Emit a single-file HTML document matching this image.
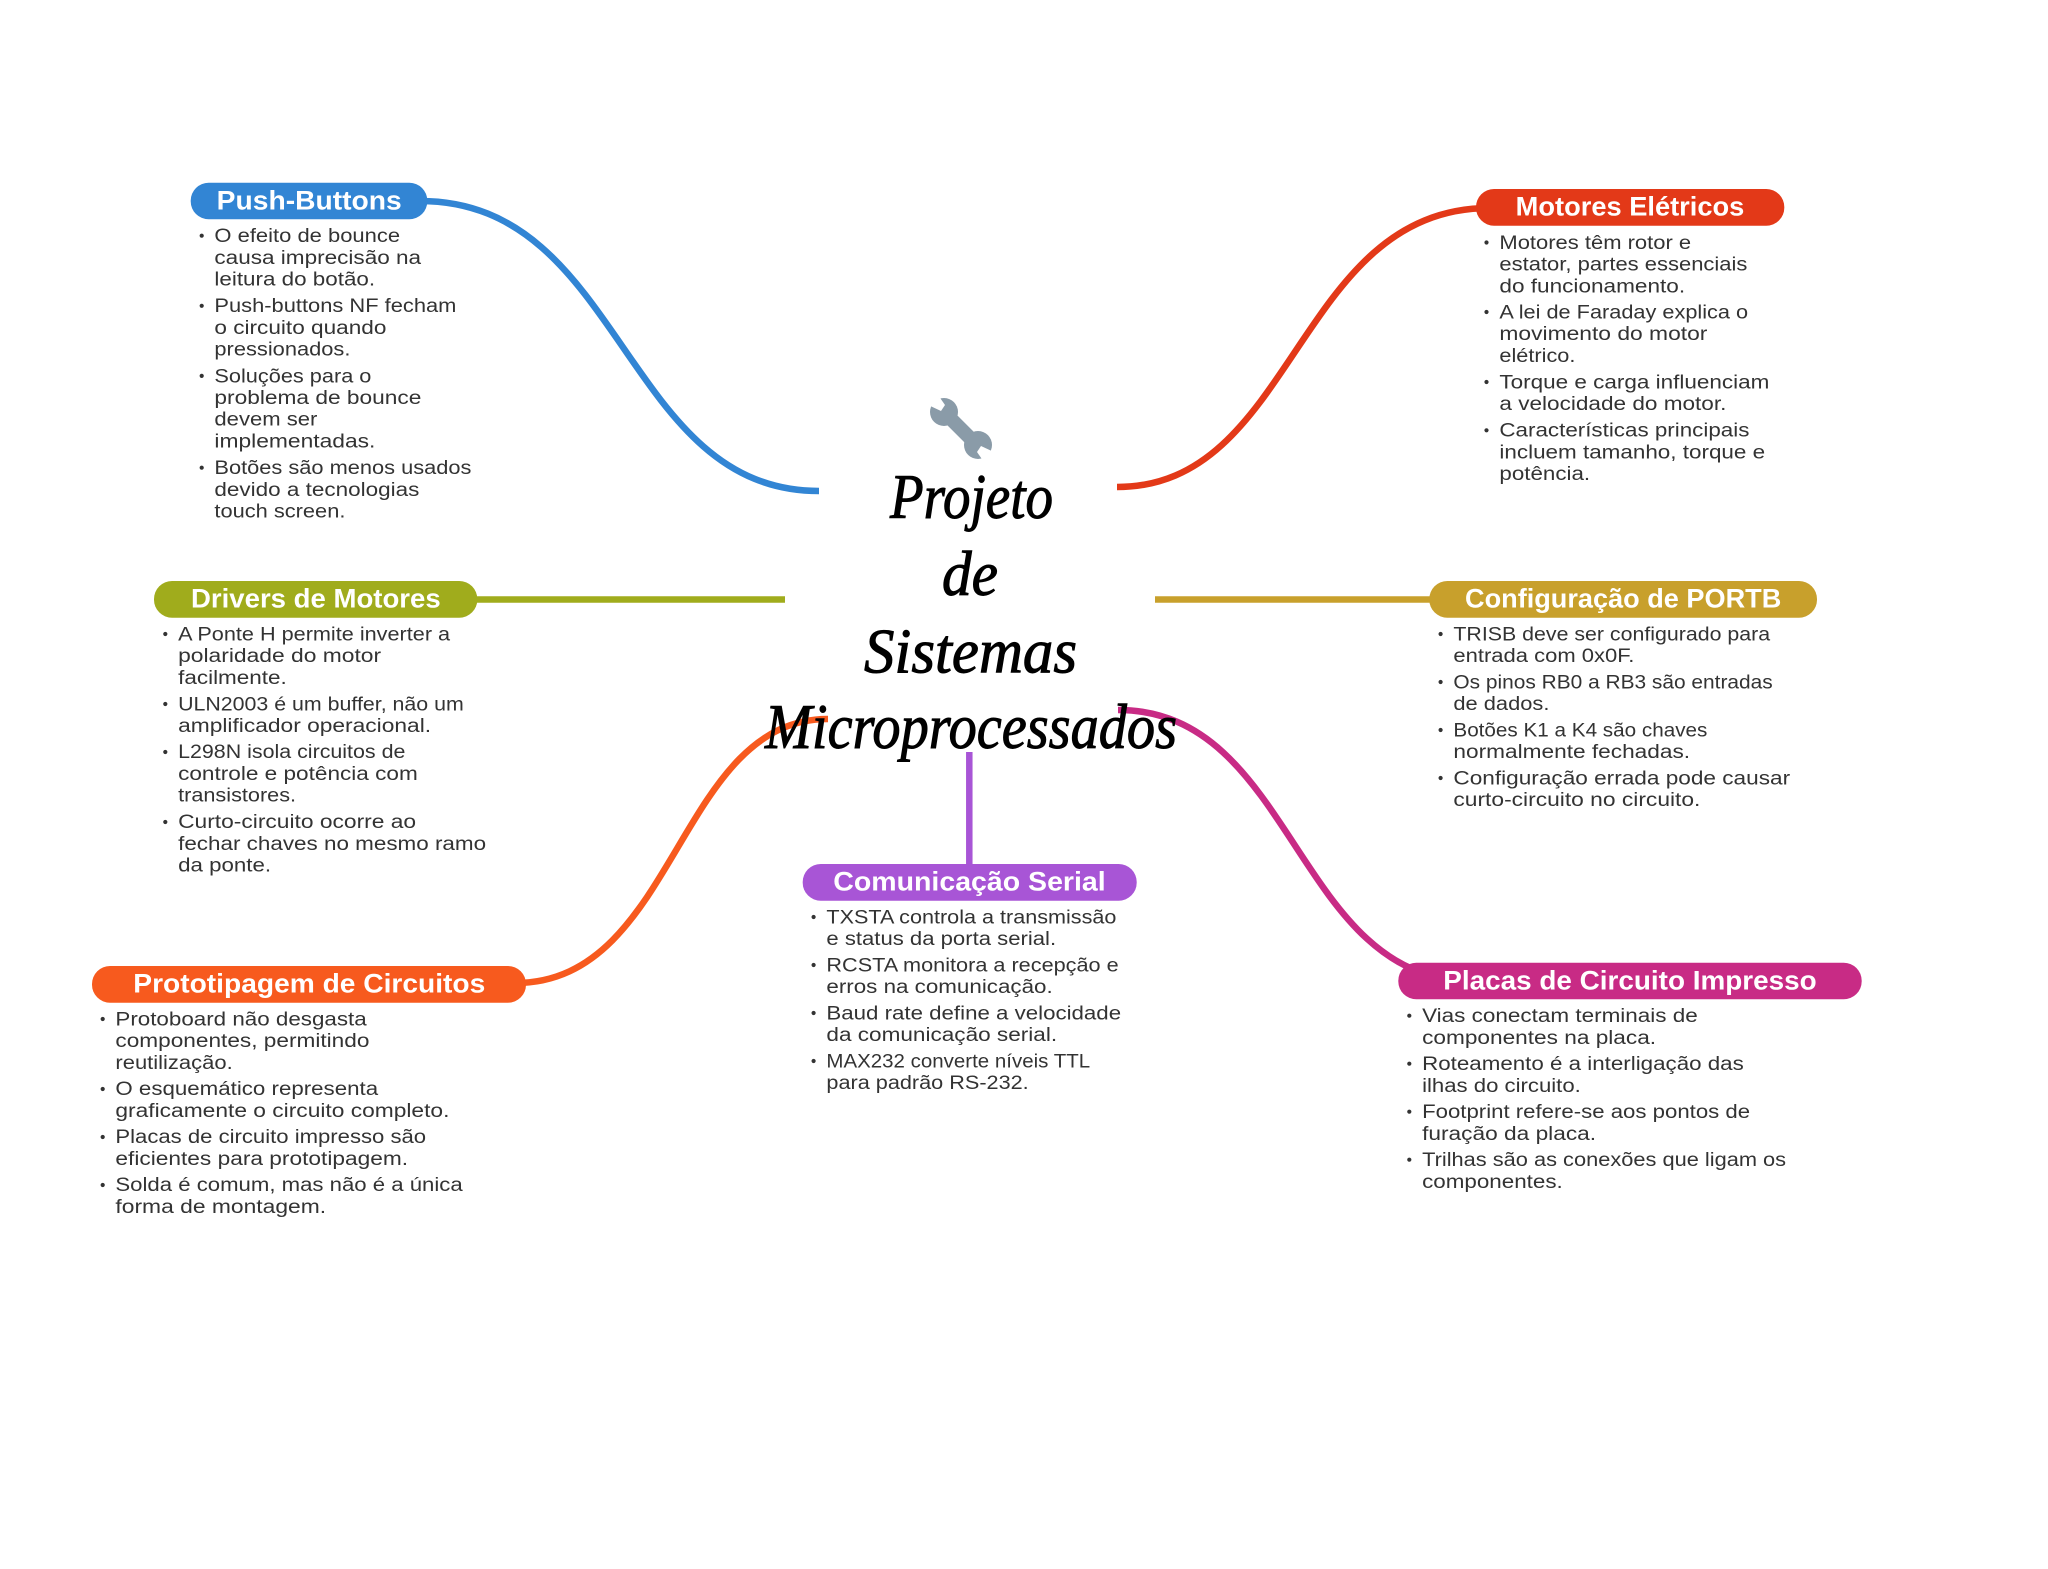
<!DOCTYPE html>
<html lang="pt">
<head>
<meta charset="utf-8">
<title>Projeto de Sistemas Microprocessados</title>
<style>
html,body{margin:0;padding:0;background:#fff;}
svg{display:block;}
.b{font-family:"Liberation Sans",sans-serif;font-size:19px;fill:#333;transform:translate(-.6px,.4px);}
.t{font-family:"Liberation Sans",sans-serif;font-size:26.5px;font-weight:700;fill:#fff;}
.s{font-family:"Liberation Serif",serif;font-style:italic;font-size:64px;fill:#000;stroke:#000;stroke-width:1px;}
.c{fill:none;stroke-width:6.5;}
</style>
</head>
<body>
<svg xmlns="http://www.w3.org/2000/svg" width="2048" height="1569" viewBox="0 0 2048 1569">
<rect width="2048" height="1569" fill="#fff"/>

<!-- connectors -->
<path class="c" stroke="#3285d4" d="M420,201 C623,201 623,491 819,491"/>
<path class="c" stroke="#e33918" d="M1117,487 C1296,487 1296,208 1490,208"/>
<path class="c" stroke="#a0ac1c" d="M470,599.5 L785,599.5"/>
<path class="c" stroke="#c8a02c" d="M1155,599.5 L1440,599.5"/>
<path class="c" stroke="#f75a1e" d="M515,983 C677,983 677,719 828,719"/>
<path class="c" stroke="#c82b85" d="M1118,710 C1295,710 1295,981 1472,981"/>
<path class="c" stroke="#a855d6" d="M969.3,752 L969.3,870"/>

<!-- wrench -->
<g fill="#8a9ba8">
<line x1="946" y1="414" x2="976" y2="444" stroke="#8a9ba8" stroke-width="14"/>
<circle cx="944" cy="412" r="14"/>
<circle cx="978" cy="445" r="14"/>
<polygon points="936,392 926,404 941,411 945,405" fill="#fff"/>
<polygon points="986,465 996,453 981,446 977,452" fill="#fff"/>
</g>

<!-- central title -->
<text class="s" x="890" y="518" textLength="163" lengthAdjust="spacingAndGlyphs">Projeto</text>
<text class="s" x="942" y="595" textLength="56" lengthAdjust="spacingAndGlyphs">de</text>
<text class="s" x="864" y="672.5" textLength="213" lengthAdjust="spacingAndGlyphs">Sistemas</text>
<text class="s" x="765" y="748" textLength="412" lengthAdjust="spacingAndGlyphs">Microprocessados</text>

<!-- Push-Buttons -->
<rect x="190.7" y="182.7" width="236.6" height="36.6" rx="18" fill="#3285d4"/>
<text class="t" x="216.7" y="209.3" textLength="185" lengthAdjust="spacingAndGlyphs">Push-Buttons</text>
<g fill="#333"><circle cx="201.7" cy="235.7" r="2.1"/><circle cx="201.7" cy="305.8" r="2.1"/><circle cx="201.7" cy="375.9" r="2.1"/><circle cx="201.7" cy="467.7" r="2.1"/></g>
<text class="b" x="215" y="241.7" textLength="185.7" lengthAdjust="spacingAndGlyphs">O efeito de bounce</text>
<text class="b" x="215" y="263.5" textLength="206.7" lengthAdjust="spacingAndGlyphs">causa imprecisão na</text>
<text class="b" x="215" y="285.2" textLength="160.7" lengthAdjust="spacingAndGlyphs">leitura do botão.</text>
<text class="b" x="215" y="311.8" textLength="242" lengthAdjust="spacingAndGlyphs">Push-buttons NF fecham</text>
<text class="b" x="215" y="333.5" textLength="172" lengthAdjust="spacingAndGlyphs">o circuito quando</text>
<text class="b" x="215" y="355.3" textLength="136" lengthAdjust="spacingAndGlyphs">pressionados.</text>
<text class="b" x="215" y="381.9" textLength="157" lengthAdjust="spacingAndGlyphs">Soluções para o</text>
<text class="b" x="215" y="403.6" textLength="207" lengthAdjust="spacingAndGlyphs">problema de bounce</text>
<text class="b" x="215" y="425.3" textLength="103" lengthAdjust="spacingAndGlyphs">devem ser</text>
<text class="b" x="215" y="447.1" textLength="161" lengthAdjust="spacingAndGlyphs">implementadas.</text>
<text class="b" x="215" y="473.7" textLength="257" lengthAdjust="spacingAndGlyphs">Botões são menos usados</text>
<text class="b" x="215" y="495.4" textLength="205" lengthAdjust="spacingAndGlyphs">devido a tecnologias</text>
<text class="b" x="215" y="517.1" textLength="131" lengthAdjust="spacingAndGlyphs">touch screen.</text>

<!-- Motores Elétricos -->
<rect x="1476" y="189" width="308.3" height="36.7" rx="18" fill="#e33918"/>
<text class="t" x="1515.7" y="215.7" textLength="228.6" lengthAdjust="spacingAndGlyphs">Motores Elétricos</text>
<g fill="#333"><circle cx="1486.5" cy="242.5" r="2.1"/><circle cx="1486.5" cy="312" r="2.1"/><circle cx="1486.5" cy="382" r="2.1"/><circle cx="1486.5" cy="430.3" r="2.1"/></g>
<text class="b" x="1500" y="248.5" textLength="191.7" lengthAdjust="spacingAndGlyphs">Motores têm rotor e</text>
<text class="b" x="1500" y="270.2" textLength="248" lengthAdjust="spacingAndGlyphs">estator, partes essenciais</text>
<text class="b" x="1500" y="291.9" textLength="185.7" lengthAdjust="spacingAndGlyphs">do funcionamento.</text>
<text class="b" x="1500" y="317.9" textLength="248.7" lengthAdjust="spacingAndGlyphs">A lei de Faraday explica o</text>
<text class="b" x="1500" y="339.6" textLength="208" lengthAdjust="spacingAndGlyphs">movimento do motor</text>
<text class="b" x="1500" y="361.4" textLength="76" lengthAdjust="spacingAndGlyphs">elétrico.</text>
<text class="b" x="1500" y="388" textLength="270" lengthAdjust="spacingAndGlyphs">Torque e carga influenciam</text>
<text class="b" x="1500" y="409.7" textLength="227" lengthAdjust="spacingAndGlyphs">a velocidade do motor.</text>
<text class="b" x="1500" y="436.3" textLength="250" lengthAdjust="spacingAndGlyphs">Características principais</text>
<text class="b" x="1500" y="458" textLength="265.7" lengthAdjust="spacingAndGlyphs">incluem tamanho, torque e</text>
<text class="b" x="1500" y="479.7" textLength="90.7" lengthAdjust="spacingAndGlyphs">potência.</text>

<!-- Drivers de Motores -->
<rect x="154" y="581" width="323.3" height="36.7" rx="18" fill="#a0ac1c"/>
<text class="t" x="191" y="607.3" textLength="249.7" lengthAdjust="spacingAndGlyphs">Drivers de Motores</text>
<g fill="#333"><circle cx="165.3" cy="634" r="2.1"/><circle cx="165.3" cy="704" r="2.1"/><circle cx="165.3" cy="752" r="2.1"/><circle cx="165.3" cy="822" r="2.1"/></g>
<text class="b" x="178.7" y="640" textLength="272" lengthAdjust="spacingAndGlyphs">A Ponte H permite inverter a</text>
<text class="b" x="178.7" y="661.7" textLength="203" lengthAdjust="spacingAndGlyphs">polaridade do motor</text>
<text class="b" x="178.7" y="683.4" textLength="108.7" lengthAdjust="spacingAndGlyphs">facilmente.</text>
<text class="b" x="178.7" y="710" textLength="285.7" lengthAdjust="spacingAndGlyphs">ULN2003 é um buffer, não um</text>
<text class="b" x="178.7" y="731.7" textLength="253" lengthAdjust="spacingAndGlyphs">amplificador operacional.</text>
<text class="b" x="178.7" y="757.8" textLength="227.3" lengthAdjust="spacingAndGlyphs">L298N isola circuitos de</text>
<text class="b" x="178.7" y="779.5" textLength="239.7" lengthAdjust="spacingAndGlyphs">controle e potência com</text>
<text class="b" x="178.7" y="801.2" textLength="118" lengthAdjust="spacingAndGlyphs">transistores.</text>
<text class="b" x="178.7" y="827.8" textLength="238" lengthAdjust="spacingAndGlyphs">Curto-circuito ocorre ao</text>
<text class="b" x="178.7" y="849.5" textLength="308" lengthAdjust="spacingAndGlyphs">fechar chaves no mesmo ramo</text>
<text class="b" x="178.7" y="871.2" textLength="93" lengthAdjust="spacingAndGlyphs">da ponte.</text>

<!-- Configuração de PORTB -->
<rect x="1429.3" y="581" width="387.7" height="36.7" rx="18" fill="#c8a02c"/>
<text class="t" x="1465" y="607.3" textLength="316.3" lengthAdjust="spacingAndGlyphs">Configuração de PORTB</text>
<g fill="#333"><circle cx="1440.6" cy="634" r="2.1"/><circle cx="1440.6" cy="682" r="2.1"/><circle cx="1440.6" cy="730" r="2.1"/><circle cx="1440.6" cy="778" r="2.1"/></g>
<text class="b" x="1454" y="640" textLength="316.7" lengthAdjust="spacingAndGlyphs">TRISB deve ser configurado para</text>
<text class="b" x="1454" y="661.7" textLength="181" lengthAdjust="spacingAndGlyphs">entrada com 0x0F.</text>
<text class="b" x="1454" y="688" textLength="319.3" lengthAdjust="spacingAndGlyphs">Os pinos RB0 a RB3 são entradas</text>
<text class="b" x="1454" y="709.7" textLength="96" lengthAdjust="spacingAndGlyphs">de dados.</text>
<text class="b" x="1454" y="736" textLength="254" lengthAdjust="spacingAndGlyphs">Botões K1 a K4 são chaves</text>
<text class="b" x="1454" y="757.7" textLength="236.7" lengthAdjust="spacingAndGlyphs">normalmente fechadas.</text>
<text class="b" x="1454" y="784" textLength="336.7" lengthAdjust="spacingAndGlyphs">Configuração errada pode causar</text>
<text class="b" x="1454" y="805.7" textLength="247" lengthAdjust="spacingAndGlyphs">curto-circuito no circuito.</text>

<!-- Comunicação Serial -->
<rect x="802.7" y="864" width="334" height="36.7" rx="18" fill="#a855d6"/>
<text class="t" x="833.3" y="890.7" textLength="272.4" lengthAdjust="spacingAndGlyphs">Comunicação Serial</text>
<g fill="#333"><circle cx="813.6" cy="917" r="2.1"/><circle cx="813.6" cy="965" r="2.1"/><circle cx="813.6" cy="1013" r="2.1"/><circle cx="813.6" cy="1061" r="2.1"/></g>
<text class="b" x="827" y="923" textLength="290" lengthAdjust="spacingAndGlyphs">TXSTA controla a transmissão</text>
<text class="b" x="827" y="944.7" textLength="229.7" lengthAdjust="spacingAndGlyphs">e status da porta serial.</text>
<text class="b" x="827" y="971" textLength="292.3" lengthAdjust="spacingAndGlyphs">RCSTA monitora a recepção e</text>
<text class="b" x="827" y="992.7" textLength="226.3" lengthAdjust="spacingAndGlyphs">erros na comunicação.</text>
<text class="b" x="827" y="1019" textLength="294.7" lengthAdjust="spacingAndGlyphs">Baud rate define a velocidade</text>
<text class="b" x="827" y="1040.7" textLength="230.7" lengthAdjust="spacingAndGlyphs">da comunicação serial.</text>
<text class="b" x="827" y="1067" textLength="263.7" lengthAdjust="spacingAndGlyphs">MAX232 converte níveis TTL</text>
<text class="b" x="827" y="1088.7" textLength="202.3" lengthAdjust="spacingAndGlyphs">para padrão RS-232.</text>

<!-- Placas de Circuito Impresso -->
<rect x="1398.3" y="962.7" width="463.4" height="36.6" rx="18" fill="#c82b85"/>
<text class="t" x="1443.3" y="989.3" textLength="373.4" lengthAdjust="spacingAndGlyphs">Placas de Circuito Impresso</text>
<g fill="#333"><circle cx="1409.3" cy="1015.7" r="2.1"/><circle cx="1409.3" cy="1063.7" r="2.1"/><circle cx="1409.3" cy="1111.7" r="2.1"/><circle cx="1409.3" cy="1159.7" r="2.1"/></g>
<text class="b" x="1422.7" y="1021.7" textLength="275.7" lengthAdjust="spacingAndGlyphs">Vias conectam terminais de</text>
<text class="b" x="1422.7" y="1043.4" textLength="234" lengthAdjust="spacingAndGlyphs">componentes na placa.</text>
<text class="b" x="1422.7" y="1069.7" textLength="321.7" lengthAdjust="spacingAndGlyphs">Roteamento é a interligação das</text>
<text class="b" x="1422.7" y="1091.4" textLength="158.7" lengthAdjust="spacingAndGlyphs">ilhas do circuito.</text>
<text class="b" x="1422.7" y="1117.7" textLength="328" lengthAdjust="spacingAndGlyphs">Footprint refere-se aos pontos de</text>
<text class="b" x="1422.7" y="1139.4" textLength="174" lengthAdjust="spacingAndGlyphs">furação da placa.</text>
<text class="b" x="1422.7" y="1165.7" textLength="364" lengthAdjust="spacingAndGlyphs">Trilhas são as conexões que ligam os</text>
<text class="b" x="1422.7" y="1187.4" textLength="140.7" lengthAdjust="spacingAndGlyphs">componentes.</text>

<!-- Prototipagem de Circuitos -->
<rect x="92" y="966" width="434" height="36.7" rx="18" fill="#f75a1e"/>
<text class="t" x="133.3" y="992.7" textLength="352" lengthAdjust="spacingAndGlyphs">Prototipagem de Circuitos</text>
<g fill="#333"><circle cx="102.7" cy="1019" r="2.1"/><circle cx="102.7" cy="1089" r="2.1"/><circle cx="102.7" cy="1137" r="2.1"/><circle cx="102.7" cy="1185" r="2.1"/></g>
<text class="b" x="116" y="1025" textLength="251.3" lengthAdjust="spacingAndGlyphs">Protoboard não desgasta</text>
<text class="b" x="116" y="1046.7" textLength="254" lengthAdjust="spacingAndGlyphs">componentes, permitindo</text>
<text class="b" x="116" y="1068.4" textLength="117.3" lengthAdjust="spacingAndGlyphs">reutilização.</text>
<text class="b" x="116" y="1094.7" textLength="262.7" lengthAdjust="spacingAndGlyphs">O esquemático representa</text>
<text class="b" x="116" y="1116.4" textLength="334" lengthAdjust="spacingAndGlyphs">graficamente o circuito completo.</text>
<text class="b" x="116" y="1142.7" textLength="310.7" lengthAdjust="spacingAndGlyphs">Placas de circuito impresso são</text>
<text class="b" x="116" y="1164.4" textLength="292.7" lengthAdjust="spacingAndGlyphs">eficientes para prototipagem.</text>
<text class="b" x="116" y="1190.7" textLength="347.3" lengthAdjust="spacingAndGlyphs">Solda é comum, mas não é a única</text>
<text class="b" x="116" y="1212.4" textLength="210.7" lengthAdjust="spacingAndGlyphs">forma de montagem.</text>
</svg>
</body>
</html>
